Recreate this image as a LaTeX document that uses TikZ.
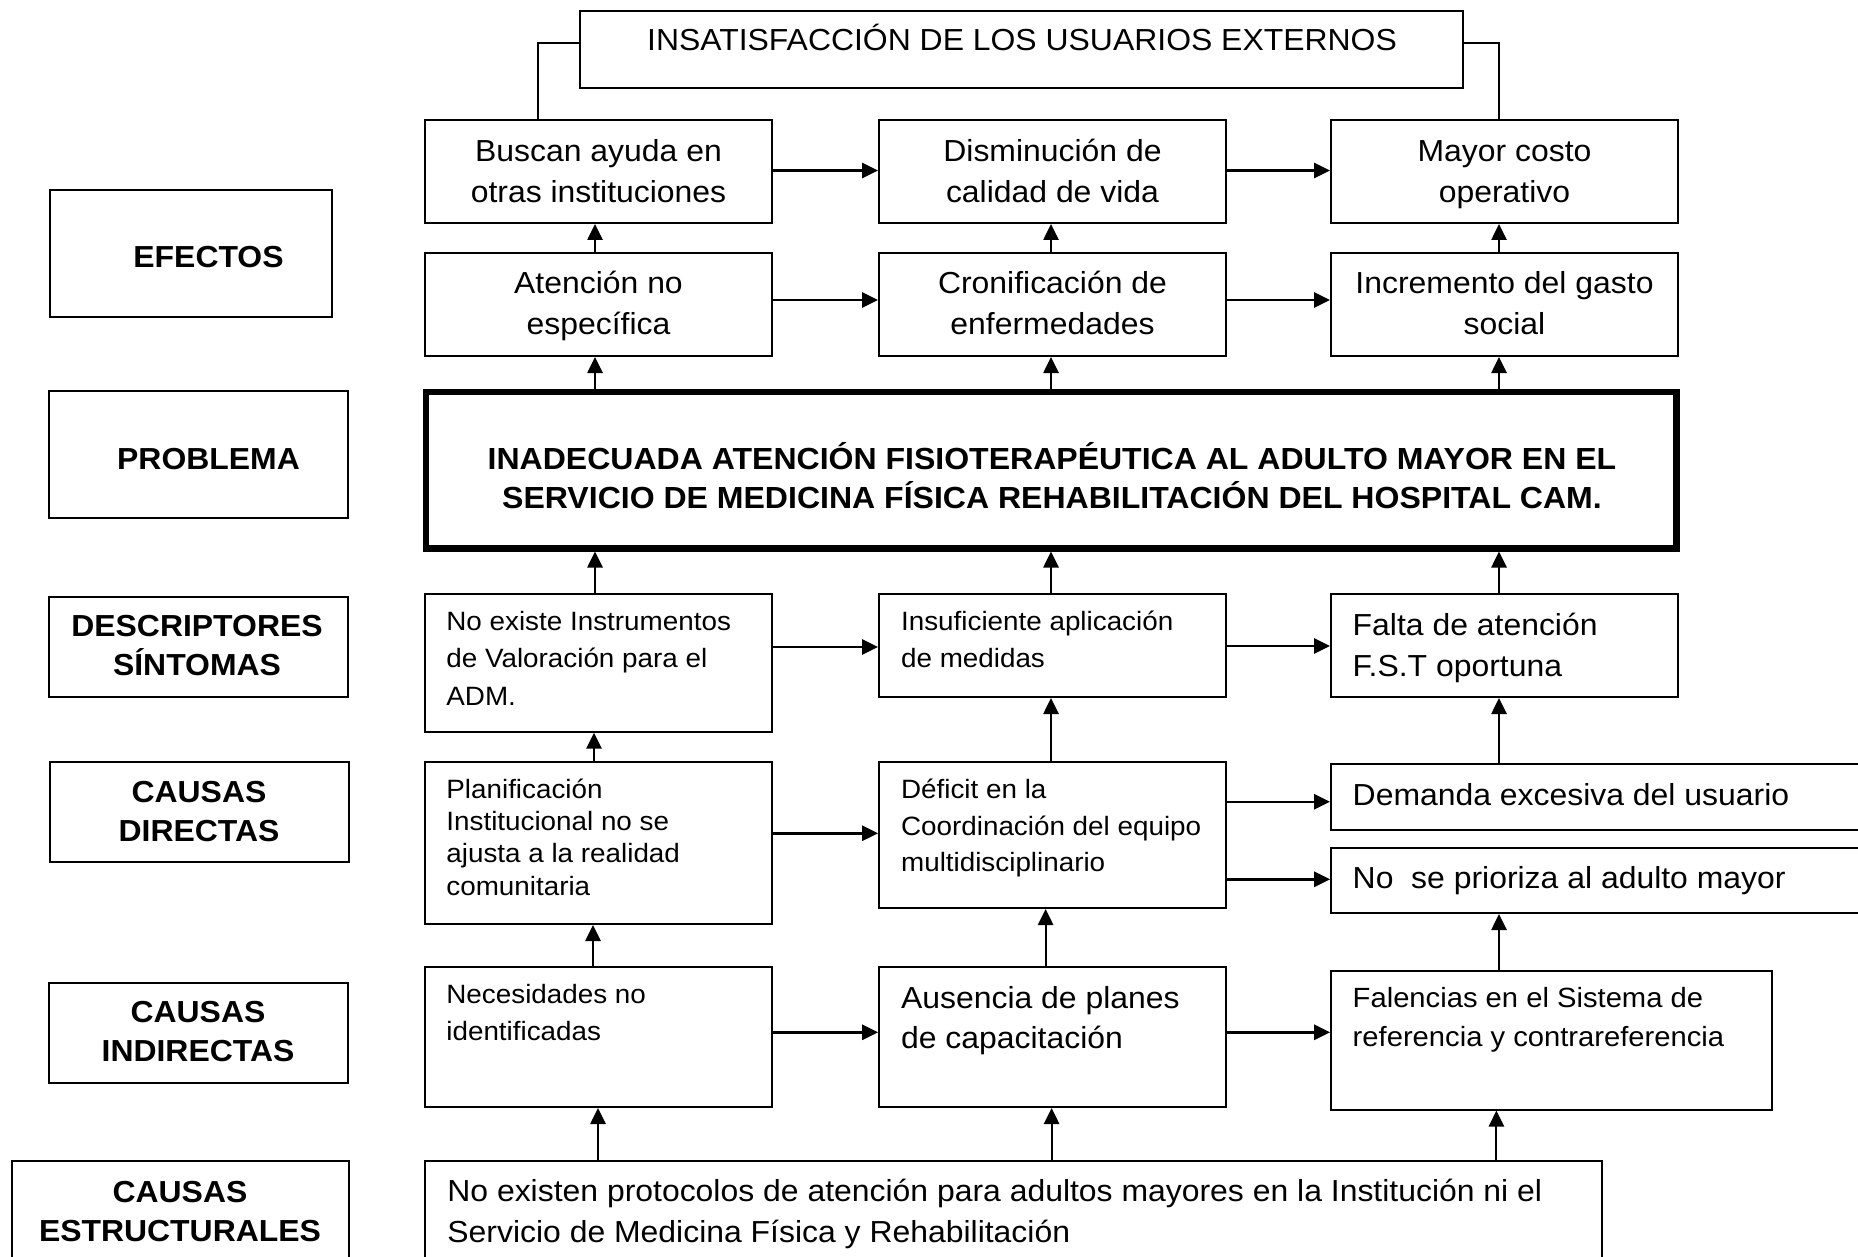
\documentclass[tikz,border=0pt]{standalone}
\usepackage{fontspec}
\setmainfont{Liberation Sans}[FakeStretch=1.05]
\usetikzlibrary{arrows.meta,fit}

% stacked lines whose first baseline is the box baseline
\newcommand{\llines}[1]{\vtop{\halign{##\hfil\cr#1\crcr}}}
\newcommand{\clines}[1]{\vtop{\halign{\hfil##\hfil\cr#1\crcr}}}
\newcommand{\fsz}[2]{\fontsize{#1}{#2}\selectfont}

\begin{document}
\begin{tikzpicture}[x=0.5pt,y=-0.5pt,
  box/.style={draw, line width=1pt, inner sep=0pt},
  probbox/.style={draw, line width=3.2pt, inner sep=0pt},
  txl/.style={inner sep=0pt, anchor=base west},
  txc/.style={inner sep=0pt, anchor=base},
  up/.style={-{Triangle[length=8pt,width=7.6pt]}, line width=1pt},
  across/.style={-{Triangle[length=8pt,width=7.6pt]}, line width=1.2pt},
  link/.style={line width=0.8pt},
  lab/.style={txc, font=\bfseries\fsz{15.2}{19.5}},
]
\useasboundingbox (0,0) rectangle (1858,1257);
\fill[white] (0,0) rectangle (1858,1257);
\clip (0,0) rectangle (1858,1257);

% column axes of the vertical connectors
\coordinate (X1) at (595,0);
\coordinate (X2) at (1051,0);
\coordinate (X3) at (1499,0);

% ---- row labels on the left
\node[box, fit={(50,190) (332,317)}] (Lef) {};
\node[box, fit={(49,391) (348,518)}] (Lpr) {};
\node[box, fit={(49,597) (348,697)}] (Lde) {};
\node[box, fit={(50,762) (349,862)}] (Ldi) {};
\node[box, fit={(49,983) (348,1083)}] (Lin) {};
\node[box, fit={(12,1161) (349,1300)}] (Les) {};

\node[lab] (Left) at (208.5,267.7) {EFECTOS};
\node[lab] (Lprt) at (208.5,469.3) {PROBLEMA};
\node[lab] (Ldet) at (197,636.7) {\clines{DESCRIPTORES\cr SÍNTOMAS}};
\node[lab] (Ldit) at (199,802.7) {\clines{CAUSAS\cr DIRECTAS}};
\node[lab] (Lint) at (198,1022.7) {\clines{CAUSAS\cr INDIRECTAS}};
\node[lab] (Lest) at (180,1202.5) {\clines{CAUSAS\cr ESTRUCTURALES}};

% ---- boxes of the tree
\node[box, fit={(580,11) (1463,88)}] (top) {};
\node[box, fit={(425,120) (772,223)}] (a1) {};
\node[box, fit={(879,120) (1226,223)}] (a2) {};
\node[box, fit={(1331,120) (1678,223)}] (a3) {};
\node[box, fit={(425,253) (772,356)}] (b1) {};
\node[box, fit={(879,253) (1226,356)}] (b2) {};
\node[box, fit={(1331,253) (1678,356)}] (b3) {};
\node[probbox, fit={(426,391.7) (1676.5,548.3)}] (prob) {};
\node[box, fit={(425,594) (772,731.7)}] (c1) {};
\node[box, fit={(879,594) (1226,697)}] (c2) {};
\node[box, fit={(1331,594) (1678,697)}] (c3) {};
\node[box, fit={(425,762) (772,924)}] (d1) {};
\node[box, fit={(879,762) (1226,908)}] (d2) {};
\node[box, fit={(1331,764) (1880,829.5)}] (d3) {};
\node[box, fit={(1331,848) (1880,913)}] (d4) {};
\node[box, fit={(425,967) (772,1107)}] (e1) {};
\node[box, fit={(879,967) (1226,1107)}] (e2) {};
\node[box, fit={(1331,971) (1772,1109.5)}] (e3) {};
\node[box, fit={(425,1161) (1602,1300)}] (f) {};

% ---- texts
\node[txc, font=\fsz{15.2}{20}] (topt) at (1022,50.7) {INSATISFACCIÓN DE LOS USUARIOS EXTERNOS};

\node[txc, font=\fsz{15.2}{20.25}] (a1t) at (598.5,161.7) {\clines{Buscan ayuda en\cr otras instituciones}};
\node[txc, font=\fsz{15.2}{20.25}] (a2t) at (1052.5,161.7) {\clines{Disminución de\cr calidad de vida}};
\node[txc, font=\fsz{15.2}{20.25}] (a3t) at (1504.5,161.7) {\clines{Mayor costo\cr operativo}};
\node[txc, font=\fsz{15.2}{20.5}] (b1t) at (598.5,293.3) {\clines{Atención no\cr específica}};
\node[txc, font=\fsz{15.2}{20.5}] (b2t) at (1052.5,293.3) {\clines{Cronificación de\cr enfermedades}};
\node[txc, font=\fsz{15.2}{20.5}] (b3t) at (1504.5,293.3) {\clines{Incremento del gasto\cr social}};

\node[txc, font=\bfseries\fsz{15.25}{19.5}] (probt) at (1052,469.3)
  {\clines{INADECUADA ATENCIÓN FISIOTERAPÉUTICA AL ADULTO MAYOR EN EL\cr
           SERVICIO DE MEDICINA FÍSICA REHABILITACIÓN DEL HOSPITAL CAM.}};

\node[txl, font=\fsz{13.25}{18.75}] (c1t) at (446,630) {\llines{No existe Instrumentos\cr de Valoración para el\cr ADM.}};
\node[txl, font=\fsz{13.25}{18.65}] (c2t) at (900.7,630) {\llines{Insuficiente aplicación\cr de medidas}};
\node[txl, font=\fsz{15.2}{20.5}] (c3t) at (1352.3,635) {\llines{Falta de atención\cr F.S.T oportuna}};

\node[txl, font=\fsz{13.25}{16.15}] (d1t) at (446,798.3) {\llines{Planificación\cr Institucional no se\cr ajusta a la realidad\cr comunitaria}};
\node[txl, font=\fsz{13.25}{18.35}] (d2t) at (900.7,798.3) {\llines{Déficit en la\cr Coordinación del equipo\cr multidisciplinario}};
\node[txl, font=\fsz{15.2}{20}] (d3t) at (1352.3,805) {Demanda excesiva del usuario};
\node[txl, font=\fsz{15.2}{20}] (d4t) at (1352.3,888.3) {No\ \ se prioriza al adulto mayor};

\node[txl, font=\fsz{13.25}{18.35}] (e1t) at (446,1003.3) {\llines{Necesidades no\cr identificadas}};
\node[txl, font=\fsz{15.2}{20}] (e2t) at (900.7,1008.3) {\llines{Ausencia de planes\cr de capacitación}};
\node[txl, font=\fsz{13.9}{19.7}] (e3t) at (1352.3,1007.3) {\llines{Falencias en el Sistema de\cr referencia y contrareferencia}};

\node[txl, font=\fsz{15.2}{20.75}] (ft) at (447,1201)
  {\llines{No existen protocolos de atención para adultos mayores en la Institución ni el\cr
           Servicio de Medicina Física y Rehabilitación}};

% ---- links to the top box
\draw[link] (top.west |- 0,43) -| (a1.north -| 538,0);
\draw[link] (top.east |- 0,43) -| (a3.north -| X3);

% ---- vertical connectors
\draw[up] (b1.north -| X1) -- (a1.south -| X1);
\draw[up] (b2.north -| X2) -- (a2.south -| X2);
\draw[up] (b3.north -| X3) -- (a3.south -| X3);

\draw[up] (prob.north -| X1) -- (b1.south -| X1);
\draw[up] (prob.north -| X2) -- (b2.south -| X2);
\draw[up] (prob.north -| X3) -- (b3.south -| X3);

\draw[up] (c1.north -| X1) -- (prob.south -| X1);
\draw[up] (c2.north -| X2) -- (prob.south -| X2);
\draw[up] (c3.north -| X3) -- (prob.south -| X3);

\draw[up] (d1.north -| 594,0) -- (c1.south -| 594,0);
\draw[up] (d2.north -| X2) -- (c2.south -| X2);
\draw[up] (d3.north -| X3) -- (c3.south -| X3);

\draw[up] (e1.north -| 593,0) -- (d1.south -| 593,0);
\draw[up] (e2.north -| 1045.6,0) -- (d2.south -| 1045.6,0);
\draw[up] (e3.north -| X3) -- (d4.south -| X3);

\draw[up] (f.north -| 598,0) -- (e1.south -| 598,0);
\draw[up] (f.north -| 1051.6,0) -- (e2.south -| 1051.6,0);
\draw[up] (f.north -| 1496.4,0) -- (e3.south -| 1496.4,0);

% ---- horizontal connectors
\draw[across] (a1.east |- 0,170.5) -- (a2.west |- 0,170.5);
\draw[across] (a2.east |- 0,170.5) -- (a3.west |- 0,170.5);
\draw[across] (b1.east |- 0,300) -- (b2.west |- 0,300);
\draw[across] (b2.east |- 0,300) -- (b3.west |- 0,300);
\draw[across] (c1.east |- 0,647) -- (c2.west |- 0,647);
\draw[across] (c2.east |- 0,646) -- (c3.west |- 0,646);
\draw[across] (d1.east |- 0,833.3) -- (d2.west |- 0,833.3);
\draw[across] (d2.east |- 0,801.7) -- (d3.west |- 0,801.7);
\draw[across] (d2.east |- 0,879.3) -- (d4.west |- 0,879.3);
\draw[across] (e1.east |- 0,1032.3) -- (e2.west |- 0,1032.3);
\draw[across] (e2.east |- 0,1032.3) -- (e3.west |- 0,1032.3);
\end{tikzpicture}
\end{document}
